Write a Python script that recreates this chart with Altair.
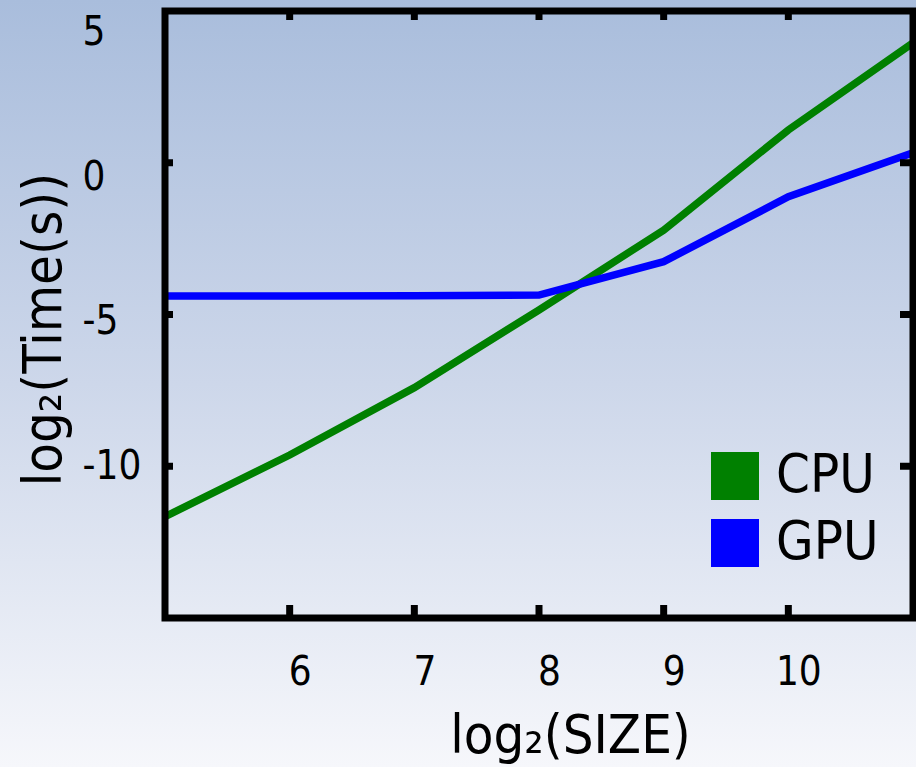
import altair as alt
import pandas as pd

# ---- data ----
sizes = [5, 6, 7, 8, 9, 10, 11]
cpu_times = [-11.66, -9.63, -7.41, -4.85, -2.22, 1.08, 3.95]
gpu_times = [-4.39, -4.39, -4.38, -4.36, -3.26, -1.12, 0.33]
series = ["CPU", "GPU"]
series_colors = ["#008000", "#0000ff"]
x_tick_values = [6, 7, 8, 9, 10]
y_tick_values = [5, 0, -5, -10]
y_inner_ticks = [0, -5, -10]

W, H = 748, 607
FONT = "DejaVu Sans Condensed"

df = pd.DataFrame({
    "size": sizes * 2,
    "time": cpu_times + gpu_times,
    "device": ["CPU"] * len(sizes) + ["GPU"] * len(sizes),
})
one = pd.DataFrame({"a": [0]})
xt = pd.DataFrame({"size": x_tick_values})
yt = pd.DataFrame({"time": y_inner_ticks})

xs = alt.Scale(domain=[5, 11], nice=False, zero=False)
ys = alt.Scale(domain=[-15, 5], nice=False, zero=False)
# the reference's y tick labels sit on a slightly compressed scale relative to its ticks
ys_labels = alt.Scale(domain=[-14.84, 6.16], nice=False, zero=False)
cs = alt.Scale(domain=series, range=series_colors)

grad = alt.LinearGradient(
    gradient="linear",
    stops=[
        alt.GradientStop(color="#a9bddc", offset=0),
        alt.GradientStop(color="#cdd7ea", offset=0.5),
        alt.GradientStop(color="#f6f7fb", offset=1),
    ],
    x1=0, x2=0, y1=0, y2=1,
)

bg = alt.Chart(one).mark_rect(color=grad).encode(
    x=alt.value(-165), x2=alt.value(W + 3), y=alt.value(-11), y2=alt.value(H + 149)
)

x_axis = alt.Axis(
    values=x_tick_values, title="log₂(SIZE)", grid=False, domain=False, ticks=False, tickSize=0,
    labelFont=FONT, labelFontSize=40, labelColor="black", labelPadding=66,
    labelBaseline="alphabetic", labelOffset=10, labelFlush=False, labelOverlap=False,
    titleFont=FONT, titleFontSize=54, titleFontWeight="normal", titleColor="black",
    titleX=405, titleY=134, titleAlign="center", titleBaseline="alphabetic",
    zindex=2,
)
y_axis = alt.Axis(
    values=y_tick_values, title="log₂(Time(s))", orient="left",
    grid=False, domain=False, ticks=False, tickSize=0,
    labelFont=FONT, labelFontSize=40, labelColor="black", labelPadding=83,
    labelAlign="left", labelBaseline="alphabetic", labelFlush=False, labelOverlap=False,
    labelExpr="datum.value < 0 ? '-' + abs(datum.value) : '\u00a0' + datum.value",
    titleFont=FONT, titleFontSize=54, titleFontWeight="normal", titleColor="black",
    titleAngle=-90, titleX=-105, titleY=318, titleAlign="center", titleBaseline="alphabetic",
    zindex=2,
)

lines = alt.Chart(df).mark_line(strokeWidth=7.5, clip=True).encode(
    x=alt.X("size:Q", scale=xs, axis=x_axis),
    y=alt.Y("time:Q", scale=ys, axis=None),
    color=alt.Color("device:N", scale=cs, legend=None),
)

# invisible squares: carry the filled-square legend and the y tick labels
legend_layer = alt.Chart(df).mark_square(size=0, filled=True, opacity=1).encode(
    x=alt.X("size:Q", scale=xs, axis=x_axis),
    y=alt.Y("time:Q", scale=ys_labels, axis=y_axis),
    color=alt.Color(
        "device:N", scale=cs,
        legend=alt.Legend(
            title=None, orient="none", legendX=543, legendY=438, padding=0,
            symbolType="square", symbolSize=2304, symbolStrokeWidth=0, symbolOpacity=1,
            labelFont=FONT, labelFontSize=54, labelColor="black", labelOffset=14,
            rowPadding=13, zindex=2,
        ),
    ),
)

tick_bottom = alt.Chart(xt).mark_rule(strokeWidth=7, color="black").encode(
    x=alt.X("size:Q", scale=xs, axis=x_axis), y=alt.value(H), y2=alt.value(H - 13)
)
tick_top = alt.Chart(xt).mark_rule(strokeWidth=7, color="black").encode(
    x=alt.X("size:Q", scale=xs, axis=x_axis), y=alt.value(0), y2=alt.value(9)
)
tick_left = alt.Chart(yt).mark_rule(strokeWidth=7, color="black").encode(
    y=alt.Y("time:Q", scale=ys, axis=None), x=alt.value(0), x2=alt.value(8)
)
tick_right = alt.Chart(yt).mark_rule(strokeWidth=7, color="black").encode(
    y=alt.Y("time:Q", scale=ys, axis=None), x=alt.value(W), x2=alt.value(W - 13)
)
border = alt.Chart(one).mark_rect(fill="transparent", stroke="black", strokeWidth=7).encode(
    x=alt.value(0), x2=alt.value(W), y=alt.value(0), y2=alt.value(H)
)

chart = alt.layer(bg, lines, legend_layer, tick_bottom, tick_top, tick_left, tick_right, border).resolve_scale(
    y="independent"
).resolve_legend(color="independent").properties(
    width=W, height=H,
    padding={"left": 165, "top": 11, "right": 3, "bottom": 149},
    autosize=alt.AutoSizeParams(type="none"),
    background="#f6f7fb",
).configure_view(stroke=None)

chart.save("out.html", embed_options={"renderer": "svg", "actions": False})
